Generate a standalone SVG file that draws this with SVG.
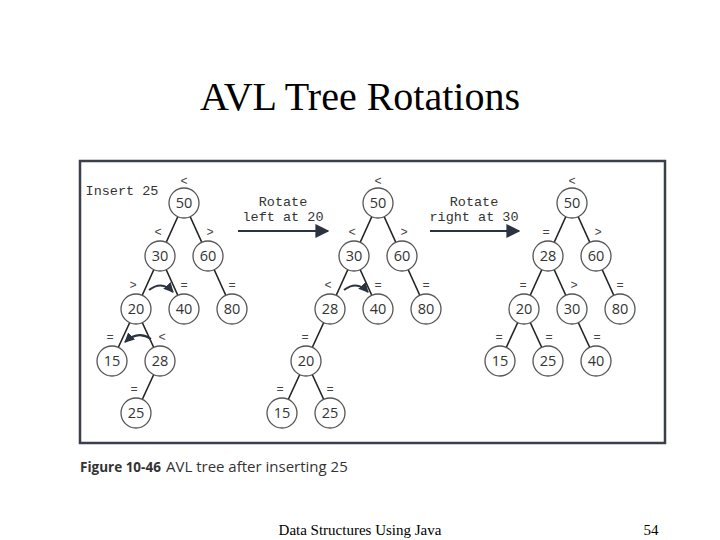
<svg xmlns="http://www.w3.org/2000/svg" width="720" height="540" viewBox="0 0 720 540">
<defs>
<marker id="ah" viewBox="0 0 10 10" refX="9" refY="5" markerWidth="7" markerHeight="7" orient="auto"><path d="M0,0L10,5L0,10z" fill="#2b3340"/></marker>
<marker id="ch" viewBox="0 0 10 10" refX="9" refY="5" markerWidth="5" markerHeight="5" orient="auto"><path d="M0,0L10,5L0,10z" fill="#2b3340"/></marker>
</defs>
<style>
.n circle{fill:#fff;stroke:#555;stroke-width:1.3}
.n text{font-family:"Open Sans","Noto Sans",sans-serif;font-size:14.5px;fill:#333;text-anchor:middle}
.b{font-family:"Liberation Mono",monospace;font-size:12px;fill:#444;text-anchor:middle}
.e line{stroke:#222;stroke-width:1.6}
.m{font-family:"Liberation Mono",monospace;font-size:13.5px;fill:#333;text-anchor:middle}
.c{fill:none;stroke:#2b3340;stroke-width:2}
</style>
<rect width="720" height="540" fill="#fff"/>
<text x="360" y="110" font-family="Liberation Serif,serif" font-size="40" text-anchor="middle">AVL Tree Rotations</text>
<rect x="80" y="161" width="585" height="282" fill="#fff" stroke="#3a3f4a" stroke-width="2.5"/>
<text x="122" y="195" class="m">Insert 25</text>
<g id="arrows">
<text x="283" y="206" class="m">Rotate</text><text x="283" y="221" class="m">left at 20</text>
<line x1="238" y1="231" x2="328" y2="231" stroke="#2b3340" stroke-width="2" marker-end="url(#ah)"/>
<text x="474" y="206" class="m">Rotate</text><text x="474" y="221" class="m">right at 30</text>
<line x1="430" y1="231" x2="519" y2="231" stroke="#2b3340" stroke-width="2" marker-end="url(#ah)"/>
</g>
<g id="connectors" class="e">
<line x1="184" y1="203" x2="160" y2="256"/><line x1="184" y1="203" x2="208" y2="256"/>
<line x1="160" y1="256" x2="136" y2="309"/><line x1="160" y1="256" x2="184" y2="309"/><line x1="208" y1="256" x2="232" y2="309"/>
<line x1="136" y1="309" x2="112" y2="361"/><line x1="136" y1="309" x2="160" y2="361"/><line x1="160" y1="361" x2="136" y2="413"/>
<line x1="378" y1="203" x2="354" y2="256"/><line x1="378" y1="203" x2="402" y2="256"/>
<line x1="354" y1="256" x2="330" y2="309"/><line x1="354" y1="256" x2="378" y2="309"/><line x1="402" y1="256" x2="426" y2="309"/>
<line x1="330" y1="309" x2="306" y2="361"/><line x1="306" y1="361" x2="282" y2="413"/><line x1="306" y1="361" x2="330" y2="413"/>
<line x1="572" y1="203" x2="548" y2="256"/><line x1="572" y1="203" x2="596" y2="256"/>
<line x1="548" y1="256" x2="524" y2="309"/><line x1="548" y1="256" x2="572" y2="309"/><line x1="596" y1="256" x2="620" y2="309"/>
<line x1="524" y1="309" x2="500" y2="361"/><line x1="524" y1="309" x2="548" y2="361"/><line x1="572" y1="309" x2="596" y2="361"/>
<path class="c" d="M149,290 Q162,280 173,292" marker-end="url(#ch)"/>
<path class="c" d="M151,339 Q138,330 125,342" marker-end="url(#ch)"/>
<path class="c" d="M344,290 Q357,280 368,292" marker-end="url(#ch)"/>
</g>
<g id="balance">
<text class="b" x="184" y="185">&lt;</text><text class="b" x="158" y="236">&lt;</text><text class="b" x="210" y="236">&gt;</text>
<text class="b" x="133" y="289">&gt;</text><text class="b" x="184" y="289">=</text><text class="b" x="232" y="289">=</text>
<text class="b" x="110" y="341">=</text><text class="b" x="162" y="341">&lt;</text><text class="b" x="134" y="393">=</text>
<text class="b" x="378" y="185">&lt;</text><text class="b" x="352" y="236">&lt;</text><text class="b" x="404" y="236">&gt;</text>
<text class="b" x="328" y="289">&lt;</text><text class="b" x="378" y="289">=</text><text class="b" x="426" y="289">=</text>
<text class="b" x="305" y="341">=</text><text class="b" x="280" y="393">=</text><text class="b" x="330" y="393">=</text>
<text class="b" x="572" y="185">&lt;</text><text class="b" x="546" y="236">=</text><text class="b" x="598" y="236">&gt;</text>
<text class="b" x="523" y="289">=</text><text class="b" x="574" y="289">&gt;</text><text class="b" x="620" y="289">=</text>
<text class="b" x="499" y="341">=</text><text class="b" x="549" y="341">=</text><text class="b" x="597" y="341">=</text>
</g>
<g id="t1-50" class="n"><circle cx="184" cy="203" r="15"/><text x="184" y="208">50</text></g>
<g id="t1-30" class="n"><circle cx="160" cy="256" r="15"/><text x="160" y="261">30</text></g>
<g id="t1-60" class="n"><circle cx="208" cy="256" r="15"/><text x="208" y="261">60</text></g>
<g id="t1-20" class="n"><circle cx="136" cy="309" r="15"/><text x="136" y="314">20</text></g>
<g id="t1-40" class="n"><circle cx="184" cy="309" r="15"/><text x="184" y="314">40</text></g>
<g id="t1-80" class="n"><circle cx="232" cy="309" r="15"/><text x="232" y="314">80</text></g>
<g id="t1-15" class="n"><circle cx="112" cy="361" r="15"/><text x="112" y="366">15</text></g>
<g id="t1-28" class="n"><circle cx="160" cy="361" r="15"/><text x="160" y="366">28</text></g>
<g id="t1-25" class="n"><circle cx="136" cy="413" r="15"/><text x="136" y="418">25</text></g>
<g id="t2-50" class="n"><circle cx="378" cy="203" r="15"/><text x="378" y="208">50</text></g>
<g id="t2-30" class="n"><circle cx="354" cy="256" r="15"/><text x="354" y="261">30</text></g>
<g id="t2-60" class="n"><circle cx="402" cy="256" r="15"/><text x="402" y="261">60</text></g>
<g id="t2-28" class="n"><circle cx="330" cy="309" r="15"/><text x="330" y="314">28</text></g>
<g id="t2-40" class="n"><circle cx="378" cy="309" r="15"/><text x="378" y="314">40</text></g>
<g id="t2-80" class="n"><circle cx="426" cy="309" r="15"/><text x="426" y="314">80</text></g>
<g id="t2-20" class="n"><circle cx="306" cy="361" r="15"/><text x="306" y="366">20</text></g>
<g id="t2-15" class="n"><circle cx="282" cy="413" r="15"/><text x="282" y="418">15</text></g>
<g id="t2-25" class="n"><circle cx="330" cy="413" r="15"/><text x="330" y="418">25</text></g>
<g id="t3-50" class="n"><circle cx="572" cy="203" r="15"/><text x="572" y="208">50</text></g>
<g id="t3-28" class="n"><circle cx="548" cy="256" r="15"/><text x="548" y="261">28</text></g>
<g id="t3-60" class="n"><circle cx="596" cy="256" r="15"/><text x="596" y="261">60</text></g>
<g id="t3-20" class="n"><circle cx="524" cy="309" r="15"/><text x="524" y="314">20</text></g>
<g id="t3-30" class="n"><circle cx="572" cy="309" r="15"/><text x="572" y="314">30</text></g>
<g id="t3-80" class="n"><circle cx="620" cy="309" r="15"/><text x="620" y="314">80</text></g>
<g id="t3-15" class="n"><circle cx="500" cy="361" r="15"/><text x="500" y="366">15</text></g>
<g id="t3-25" class="n"><circle cx="548" cy="361" r="15"/><text x="548" y="366">25</text></g>
<g id="t3-40" class="n"><circle cx="596" cy="361" r="15"/><text x="596" y="366">40</text></g>
<text x="80" y="472" font-family="Open Sans,sans-serif" font-size="13.5" font-weight="bold" fill="#333">Figure 10-46</text>
<text x="166" y="472" font-family="Open Sans,sans-serif" font-size="15" fill="#333">AVL tree after inserting 25</text>
<text x="360" y="535" font-family="Liberation Serif,serif" font-size="15" text-anchor="middle">Data Structures Using Java</text>
<text x="651" y="535" font-family="Liberation Serif,serif" font-size="15" text-anchor="middle">54</text>
</svg>
